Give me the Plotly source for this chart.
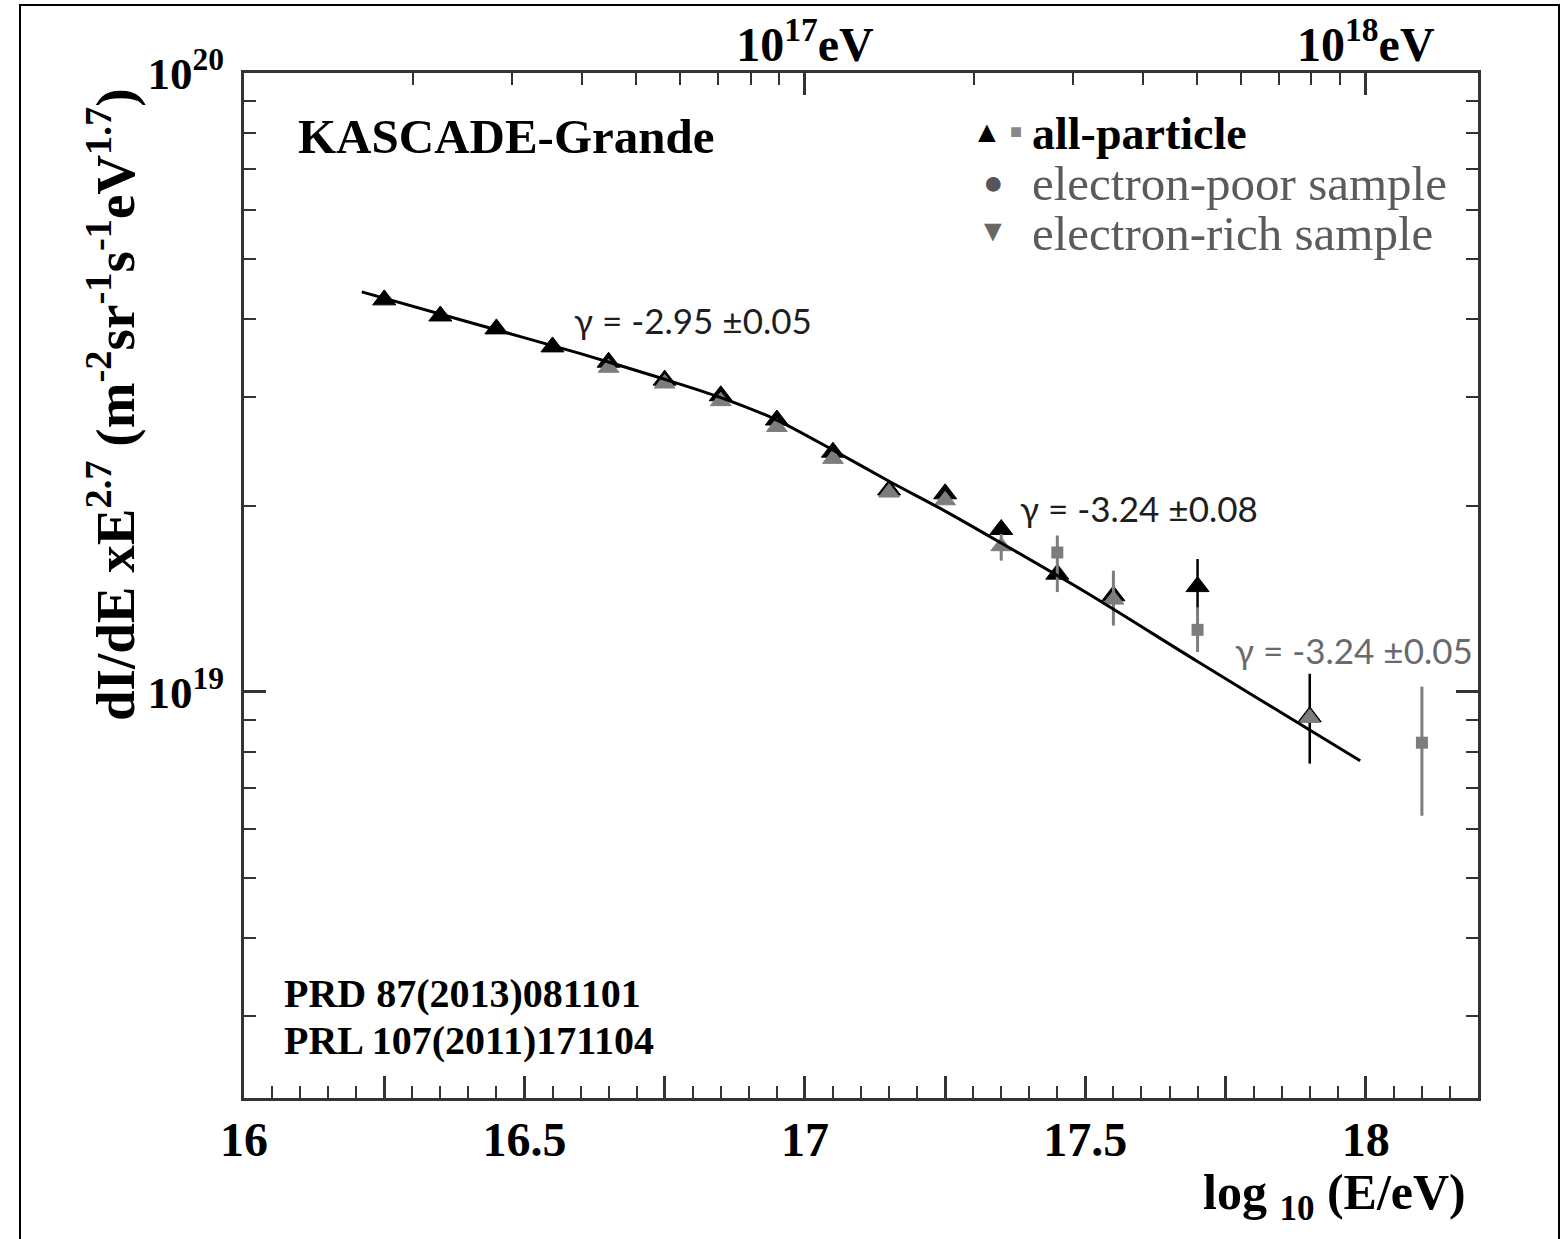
import plotly.graph_objects as go
import math

# ---------------- data ----------------
# all-particle spectrum, KASCADE-Grande PRL 107 (2011) 171104  (black up-triangles)
logE_black = [16.25, 16.35, 16.45, 16.55, 16.65, 16.75, 16.85, 16.95, 17.05,
              17.15, 17.25, 17.35, 17.45, 17.55, 17.70, 17.90]
flux_black = [4.30e19, 4.05e19, 3.86e19, 3.61e19, 3.41e19, 3.19e19, 3.01e19, 2.75e19, 2.44e19,
              2.12e19, 2.09e19, 1.83e19, 1.55e19, 1.43e19, 1.48e19, 9.12e18]
err_up_black = [0, 0, 0, 0, 0, 0, 0, 0, 0, 0, 0, 0, 0, 0, 1.6e18, 1.58e18]
err_dn_black = [0, 0, 0, 0, 0, 0, 0, 0, 0, 0, 0, 0, 0, 0, 1.3e18, 1.46e18]

# all-particle spectrum, PRD 87 (2013) 081101 (grey up-triangles)
logE_grey = [16.65, 16.75, 16.85, 16.95, 17.05, 17.15, 17.25, 17.35, 17.55, 17.90]
flux_grey = [3.34e19, 3.15e19, 2.95e19, 2.68e19, 2.38e19, 2.10e19, 2.04e19, 1.72e19, 1.41e19, 9.08e18]
err_up_grey = [0, 0, 0, 0, 0, 0, 0, 0.8e18, 1.6e18, 0]
err_dn_grey = [0, 0, 0, 0, 0, 0, 0, 0.9e18, 1.3e18, 0]

# extension at the highest energies (grey squares)
logE_sq = [17.45, 17.70, 18.10]
flux_sq = [1.68e19, 1.26e19, 8.28e18]
err_up_sq = [1.1e18, 1.1e18, 1.92e18]
err_dn_sq = [2.3e18, 1.0e18, 1.97e18]

# broken power-law fit
logE_fit = [16.21, 16.40, 16.60, 16.75, 16.85, 16.95, 17.05, 17.15, 17.25, 17.35,
            17.50, 17.70, 17.90, 17.99]
flux_fit = [4.43e19, 3.96e19, 3.52e19, 3.20e19, 2.99e19, 2.75e19, 2.46e19, 2.19e19, 1.96e19,
            1.74e19, 1.45e19, 1.12e19, 8.68e18, 7.74e18]

# axis ticks
x_major = [16, 16.25, 16.5, 16.75, 17, 17.25, 17.5, 17.75, 18]
x_major_text = ["16", "", "16.5", "", "17", "", "17.5", "", "18"]
y_major = [1e19, 1e20]
y_major_text = ["10<sup>19</sup>", "10<sup>20</sup>"]
y_minor = [2e18, 3e18, 4e18, 5e18, 6e18, 7e18, 8e18, 9e18,
           2e19, 3e19, 4e19, 5e19, 6e19, 7e19, 8e19, 9e19]
top_major = [17, 18]
top_major_text = ["10<sup>17</sup>eV", "10<sup>18</sup>eV"]
top_minor_E = [2e16, 3e16, 4e16, 5e16, 6e16, 7e16, 8e16, 9e16,
               2e17, 3e17, 4e17, 5e17, 6e17, 7e17, 8e17, 9e17]

# ---------------- layout geometry ----------------
W, H = 1564, 1239
L, R, T, B = 244, 1478, 73, 1098
SERIF = "Liberation Serif"


def px(xp):
    return (xp - L) / (R - L)


def py(yp):
    return (B - yp) / (B - T)


fig = go.Figure()

fig.add_trace(go.Scatter(
    x=logE_black, y=flux_black, mode="markers",
    marker=dict(symbol="triangle-up", size=20, color="black",
                line=dict(color="black", width=1)),
    error_y=dict(type="data", symmetric=False, array=err_up_black, arrayminus=err_dn_black,
                 color="black", thickness=2.5, width=0),
    showlegend=False))

fig.add_trace(go.Scatter(
    x=logE_grey, y=flux_grey, mode="markers",
    marker=dict(symbol="triangle-up", size=18, color="#7d7d7d",
                line=dict(color="#7d7d7d", width=1)),
    error_y=dict(type="data", symmetric=False, array=err_up_grey, arrayminus=err_dn_grey,
                 color="#7d7d7d", thickness=3, width=0),
    showlegend=False))

fig.add_trace(go.Scatter(
    x=logE_sq, y=flux_sq, mode="markers",
    marker=dict(symbol="square", size=12, color="#7d7d7d"),
    error_y=dict(type="data", symmetric=False, array=err_up_sq, arrayminus=err_dn_sq,
                 color="#7d7d7d", thickness=3, width=0),
    showlegend=False))

fig.add_trace(go.Scatter(
    x=logE_fit, y=flux_fit, mode="lines", xaxis="x2",
    line=dict(color="black", width=3, shape="spline", smoothing=0.8),
    showlegend=False))

axis_line = dict(showline=True, linecolor="#333333", linewidth=3, showgrid=False,
                 zeroline=False, ticks="inside", tickcolor="#333333")

fig.update_layout(
    width=W, height=H,
    margin=dict(l=L, r=W - R, t=T, b=H - B),
    paper_bgcolor="white", plot_bgcolor="white",
    xaxis=dict(range=[16, 18.2], tickmode="array", tickvals=x_major, ticktext=x_major_text,
               ticklen=22, tickwidth=2.5,
               minor=dict(tick0=16, dtick=0.05, ticks="inside", ticklen=12, tickwidth=2,
                          tickcolor="#333333"),
               tickfont=dict(family=SERIF, size=48, color="black", weight="bold"),
               ticklabelstandoff=-3, **axis_line),
    xaxis2=dict(range=[16, 18.2], overlaying="x", side="top", tickmode="array",
                tickvals=top_major, ticktext=top_major_text, ticklen=22, tickwidth=2.5,
                minor=dict(tickmode="array", tickvals=[math.log10(e) for e in top_minor_E],
                           ticks="inside", ticklen=12, tickwidth=2, tickcolor="#333333"),
                tickfont=dict(family=SERIF, size=48, color="black", weight="bold"),
                ticklabelstandoff=-10, **axis_line),
    yaxis=dict(type="log", range=[18.344, 20], tickmode="array", tickvals=y_major,
               ticktext=y_major_text, ticklen=22, tickwidth=2.5, mirror="ticks",
               minor=dict(tickmode="array", tickvals=y_minor, ticks="inside", ticklen=12,
                          tickwidth=2, tickcolor="#333333"),
               tickfont=dict(family=SERIF, size=45, color="black", weight="bold"),
               ticklabelstandoff=8, **axis_line),
)

annotations = []


def ann(text, x, y, size, color="black", family=SERIF, xanchor="left", yanchor="middle",
        angle=0):
    annotations.append(dict(text=text, x=px(x), y=py(y), xref="paper", yref="paper",
                            showarrow=False, xanchor=xanchor, yanchor=yanchor,
                            textangle=angle,
                            font=dict(family=family, size=size, color=color)))


ann("<b>KASCADE-Grande</b>", 296, 136, 49)
# legend
ann("▲", 987, 131, 30, xanchor="center")
ann("■", 1016, 131, 20, color="#888888", xanchor="center")
ann("<b>all-particle</b>", 1030, 133, 46)
ann("●", 993, 182, 34, color="#56555c", xanchor="center")
ann("electron-poor sample", 1030, 183, 49, color="#5e5a58")
ann("▼", 993, 230, 30, color="#6a6662", xanchor="center")
ann("electron-rich sample", 1030, 233, 49, color="#5e5a58")
# slopes
ann("γ = -2.95 ±0.05", 572, 320, 35, color="#1e1e1e", family="Lato")
ann("γ = -3.24 ±0.08", 1018, 508, 35, color="#1e1e1e", family="Lato")
ann("γ = -3.24 ±0.05", 1233, 650, 35, color="#6a6a6a", family="Lato")
# references
ann("<b>PRD 87(2013)081101</b>", 282, 993, 40)
ann("<b>PRL 107(2011)171104</b>", 282, 1040, 40)
# axis titles
ann("<b>log <sub>10</sub> (E/eV)</b>", 1468, 1196, 50, xanchor="right")
ann("<b>dI/dE xE<sup>2.7</sup> (m<sup>-2</sup>sr<sup>-1</sup>s<sup>-1</sup>eV<sup>1.7</sup>)</b>",
    112, 405, 55, xanchor="center", angle=-90)

fig.update_layout(annotations=annotations)

# outer frame around the whole figure
fig.add_shape(type="rect", xref="paper", yref="paper",
              x0=px(20), x1=px(1559), y0=py(1260), y1=py(5),
              line=dict(color="black", width=2), fillcolor="rgba(0,0,0,0)", layer="below")

fig.write_html("out.html")
